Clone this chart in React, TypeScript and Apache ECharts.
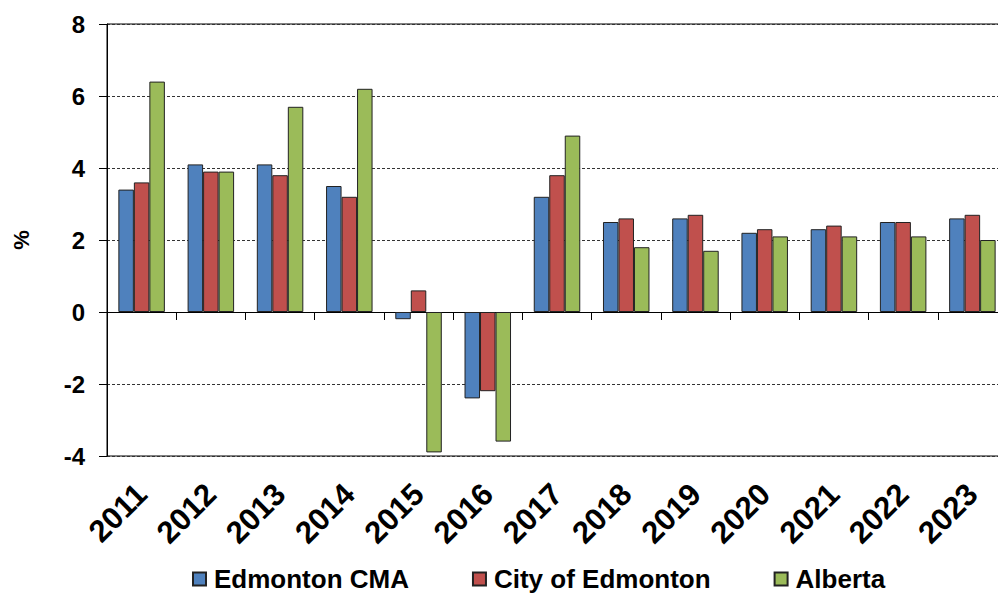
import React, { useEffect, useRef } from "react";
import * as echarts from "echarts";

const years = ["2011", "2012", "2013", "2014", "2015", "2016", "2017", "2018", "2019", "2020", "2021", "2022", "2023"];
const edmontonCMA = [3.4, 4.1, 4.1, 3.5, -0.2, -2.4, 3.2, 2.5, 2.6, 2.2, 2.3, 2.5, 2.6];
const cityOfEdmonton = [3.6, 3.9, 3.8, 3.2, 0.6, -2.2, 3.8, 2.6, 2.7, 2.3, 2.4, 2.5, 2.7];
const alberta = [6.4, 3.9, 5.7, 6.2, -3.9, -3.6, 4.9, 1.8, 1.7, 2.1, 2.1, 2.1, 2.0];
const seriesNames = ["Edmonton CMA", "City of Edmonton", "Alberta"];
const colors = ["#4F81BD", "#C0504D", "#9BBB59"];

const FONT = "'Liberation Sans', Arial, sans-serif";

export default function App() {
  const ref = useRef<HTMLDivElement>(null);
  useEffect(() => {
    document.body.style.margin = "0";
    const chart = echarts.init(ref.current!, null, { renderer: "svg" });
    const data = [edmontonCMA, cityOfEdmonton, alberta];
    chart.setOption({
      animation: false,
      backgroundColor: "#ffffff",
      grid: {
        left: 107,
        top: 24,
        width: 900,
        height: 432,
        containLabel: false,
        outerBoundsMode: "none",
        show: true,
        borderColor: "#000",
        borderWidth: 1,
        backgroundColor: "transparent",
      },
      legend: {
        left: 192,
        top: 566,
        padding: 0,
        itemWidth: 13,
        itemHeight: 13,
        itemGap: 63,
        icon: "rect",
        textStyle: {
          fontFamily: FONT,
          fontWeight: "bold",
          fontSize: 26,
          lineHeight: 24,
          color: "#000",
          padding: [0, 0, 0, 3],
        },
        data: seriesNames,
      },
      xAxis: [
        {
          type: "category",
          data: years,
          position: "bottom",
          axisLine: { show: false, onZero: false },
          axisTick: { show: false },
          axisLabel: {
            rotate: 45,
            margin: 33,
            interval: 0,
            fontFamily: FONT,
            fontWeight: "bold",
            fontSize: 31,
            color: "#000",
          },
        },
        {
          type: "category",
          data: years,
          position: "bottom",
          axisLine: { show: true, onZero: true, lineStyle: { color: "#000", width: 1 } },
          axisTick: { show: true, length: 8, lineStyle: { color: "#000" } },
          axisLabel: { show: false },
        },
      ],
      yAxis: {
        type: "value",
        min: -4,
        max: 8,
        interval: 2,
        name: "%",
        nameLocation: "middle",
        nameGap: 75,
        nameRotate: 90,
        nameTextStyle: { fontFamily: FONT, fontWeight: "bold", fontSize: 22, color: "#000" },
        axisLine: { show: true, lineStyle: { color: "#000", width: 1 } },
        axisTick: { show: true, length: 8, lineStyle: { color: "#000" } },
        axisLabel: { margin: 22, fontFamily: FONT, fontWeight: "bold", fontSize: 24, color: "#000" },
        splitLine: { show: true, lineStyle: { color: "#333", type: [3, 2], width: 1 } },
      },
      series: data.map((d, i) => ({
        name: seriesNames[i],
        type: "bar",
        xAxisIndex: 0,
        data: d,
        barWidth: 15.5,
        barGap: "0%",
        itemStyle: { color: colors[i], borderColor: "#222", borderWidth: 1 },
      })),
    });
    return () => chart.dispose();
  }, []);
  return <div ref={ref} style={{ width: 998, height: 593 }} />;
}
